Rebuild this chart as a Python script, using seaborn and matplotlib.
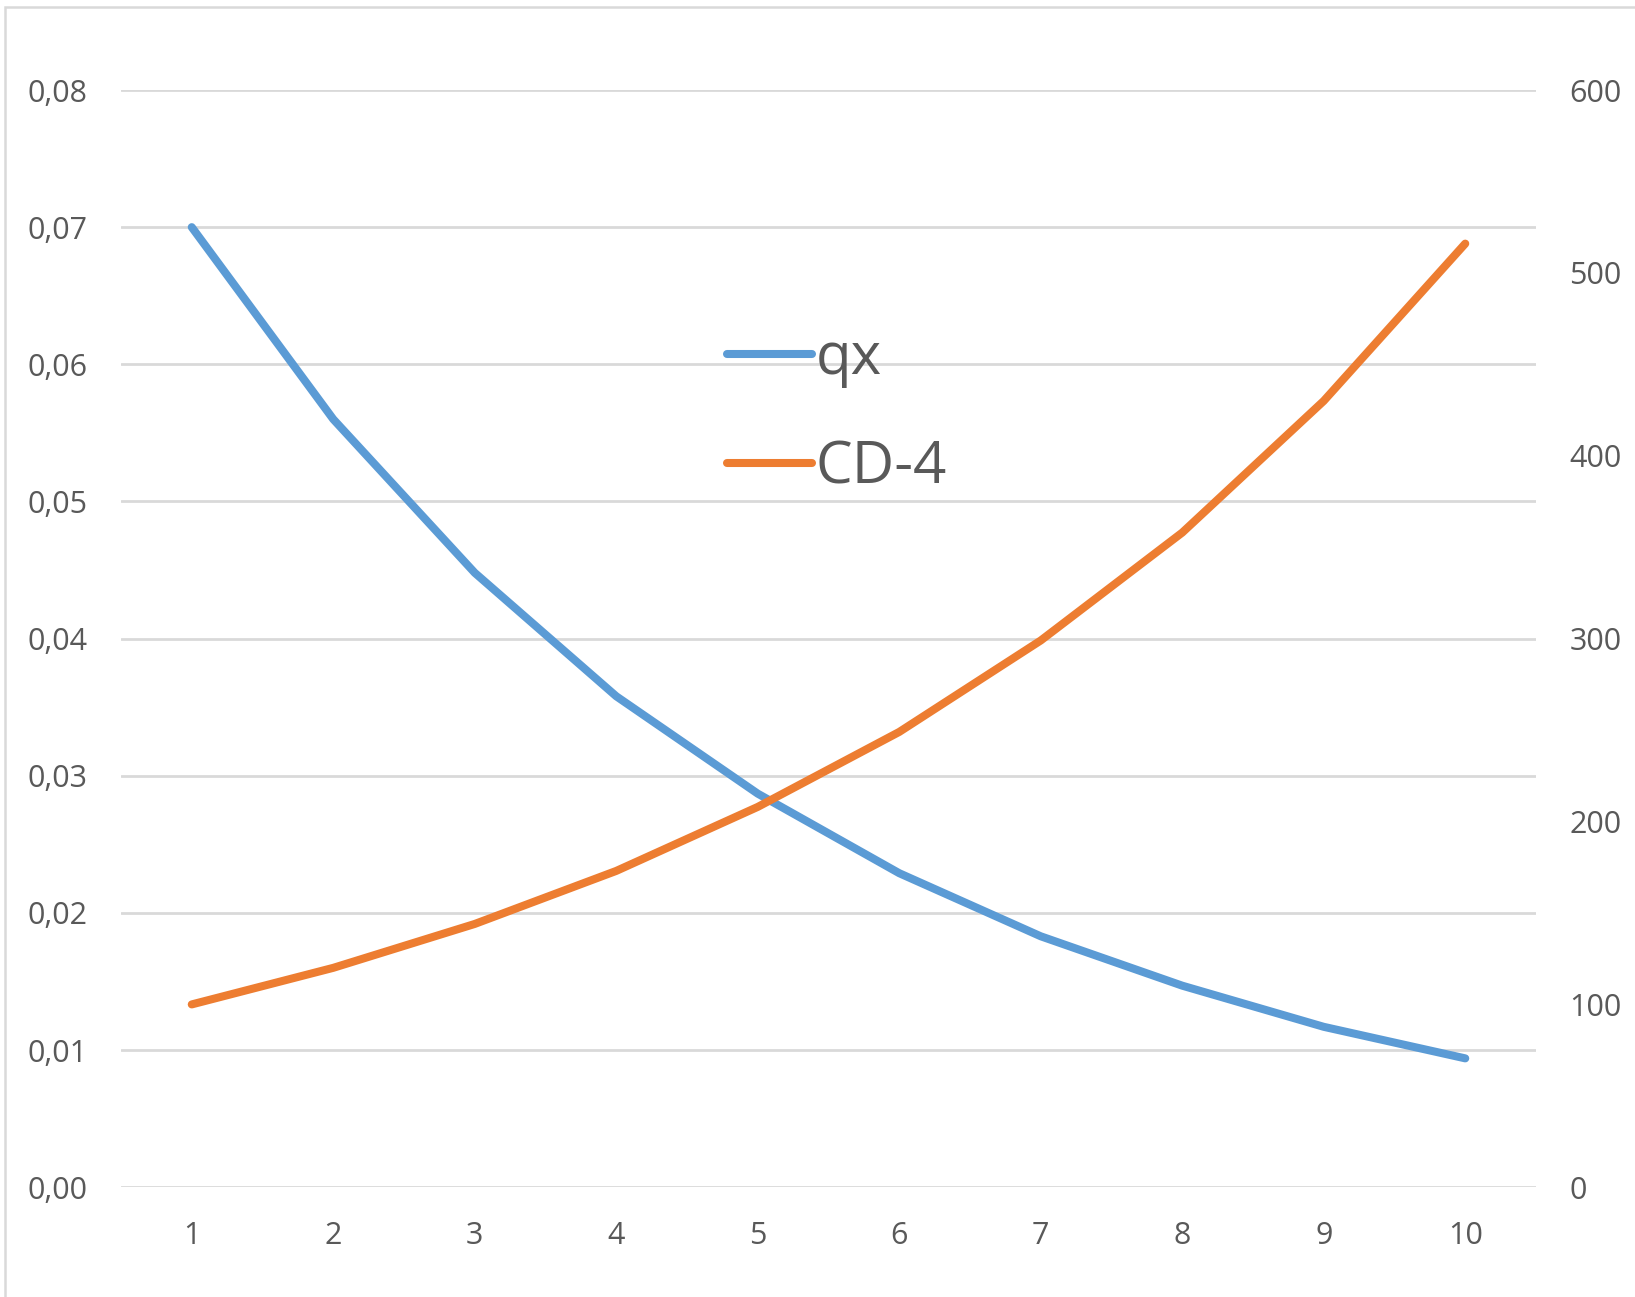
import matplotlib
matplotlib.use("Agg")
import matplotlib.pyplot as plt
import seaborn as sns
import pandas as pd
from matplotlib.patches import Rectangle
from matplotlib.lines import Line2D

sns.set_theme(style="white")
plt.rcParams['font.family'] = ['Open Sans', 'DejaVu Sans']

x = [1, 2, 3, 4, 5, 6, 7, 8, 9, 10]
qx = [0.0700, 0.0560, 0.0448, 0.0358, 0.0287, 0.0229, 0.0183, 0.0147, 0.0117, 0.0094]
cd4 = [100, 120, 144, 173, 208, 249, 299, 358, 430, 516]
left_ticks = [0.0, 0.01, 0.02, 0.03, 0.04, 0.05, 0.06, 0.07, 0.08]
left_labels = ["0,00", "0,01", "0,02", "0,03", "0,04", "0,05", "0,06", "0,07", "0,08"]
right_ticks = [0, 100, 200, 300, 400, 500, 600]
right_labels = ["0", "100", "200", "300", "400", "500", "600"]
series_names = ["qx", "CD-4"]

BLUE = "#5B9BD5"
ORANGE = "#ED7D31"
GRID = "#D9D9D9"
TXT = "#595959"

W, H = 1635, 1297
fig = plt.figure(figsize=(W / 100, H / 100), dpi=100)
ax = fig.add_axes([121 / W, 1 - 1187.3 / H, (1536 - 121) / W, (1187.3 - 90) / H])
ax2 = ax.twinx()

df = pd.DataFrame({"x": x, "qx": qx, "cd4": cd4})

lw = 5.8
sns.lineplot(data=df, x="x", y="qx", ax=ax, color=BLUE, linewidth=lw, solid_capstyle="round", zorder=3)
sns.lineplot(data=df, x="x", y="cd4", ax=ax2, color=ORANGE, linewidth=lw, solid_capstyle="round", zorder=3)

ax.set_xlim(0.5, 10.5)
ax.set_ylim(0, 0.08)
ax2.set_ylim(0, 600)
ax.set_yticks(left_ticks)
ax.set_yticklabels(left_labels)
ax2.set_yticks(right_ticks)
ax2.set_yticklabels(right_labels)
ax.set_xticks(x)
ax.set_xticklabels([str(v) for v in x])
ax.set_xlabel("")
ax.set_ylabel("")
ax2.set_ylabel("")

for a in (ax, ax2):
    for s in a.spines.values():
        s.set_visible(False)
    a.tick_params(length=0, labelsize=22, labelcolor=TXT)
ax.tick_params(axis="y", pad=24)
ax2.tick_params(axis="y", pad=24)
ax.tick_params(axis="x", pad=24)

ax.grid(False)
ax2.grid(False)
for t in left_ticks:
    ax.axhline(t, color=GRID, linewidth=2.0, zorder=1)

handles = [Line2D([0], [0], color=BLUE, linewidth=lw, solid_capstyle="round"),
           Line2D([0], [0], color=ORANGE, linewidth=lw, solid_capstyle="round")]
leg = ax2.legend(handles, series_names, loc="upper left",
                 bbox_to_anchor=(727 / W, 1 - 330 / H), bbox_transform=fig.transFigure,
                 frameon=False, fontsize=42, handlelength=1.45, handletextpad=0.07,
                 labelspacing=0.86, borderpad=0, borderaxespad=0)
for t in leg.get_texts():
    t.set_color(TXT)

fig.patches.append(Rectangle((5 / W, -0.1), 1.2, 1 - 7 / H + 0.1, transform=fig.transFigure,
                             fill=False, edgecolor=GRID, linewidth=1.8))

fig.savefig("out.png", dpi=100, facecolor="white")
